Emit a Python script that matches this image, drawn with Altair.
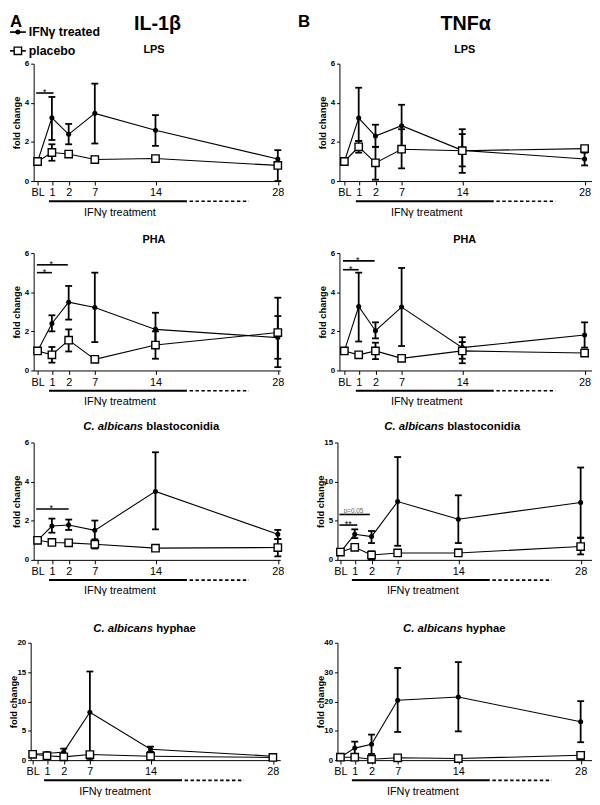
import altair as alt
import pandas as pd

FONT = "Liberation Sans"

DAY_LABELS = ["BL", "1", "2", "7", "14", "28"]
DAY_VALUES = [0, 1, 2, 7, 14, 28]

# ---------------- IL-1beta ----------------
IL1B_LPS_IFN = [1.0, 3.23, 2.39, 3.46, 2.60, 1.13]
IL1B_LPS_IFN_LO = [1.0, 2.10, 1.88, 1.92, 1.80, 0.70]
IL1B_LPS_IFN_HI = [1.0, 4.30, 2.92, 4.98, 3.37, 1.58]
IL1B_LPS_PLA = [1.0, 1.46, 1.38, 1.10, 1.15, 0.80]
IL1B_LPS_PLA_LO = [1.0, 1.04, 1.30, 0.95, 1.05, 0.00]
IL1B_LPS_PLA_HI = [1.0, 1.88, 1.45, 1.25, 1.25, 0.95]

IL1B_PHA_IFN = [1.0, 2.40, 3.49, 3.22, 2.10, 1.68]
IL1B_PHA_IFN_LO = [1.0, 2.00, 2.60, 1.45, 1.27, 0.60]
IL1B_PHA_IFN_HI = [1.0, 2.82, 4.32, 5.00, 2.95, 2.78]
IL1B_PHA_PLA = [1.0, 0.80, 1.55, 0.57, 1.30, 1.94]
IL1B_PHA_PLA_LO = [1.0, 0.40, 0.97, 0.50, 0.60, 0.17]
IL1B_PHA_PLA_HI = [1.0, 1.20, 2.10, 0.65, 2.00, 3.72]

IL1B_BLA_IFN = [1.0, 1.73, 1.78, 1.51, 3.50, 1.31]
IL1B_BLA_IFN_LO = [1.0, 1.39, 1.53, 0.97, 1.56, 1.06]
IL1B_BLA_IFN_HI = [1.0, 2.11, 2.06, 2.01, 5.50, 1.53]
IL1B_BLA_PLA = [1.0, 0.89, 0.87, 0.80, 0.60, 0.63]
IL1B_BLA_PLA_LO = [1.0, 0.85, 0.80, 0.58, 0.55, 0.18]
IL1B_BLA_PLA_HI = [1.0, 0.93, 0.95, 1.05, 0.65, 1.06]

IL1B_HYP_IFN = [1.0, 1.12, 1.40, 8.15, 1.85, 0.67]
IL1B_HYP_IFN_LO = [1.0, 1.00, 0.84, 0.00, 1.40, 0.55]
IL1B_HYP_IFN_HI = [1.0, 1.25, 1.96, 15.10, 2.30, 0.80]
IL1B_HYP_PLA = [1.0, 0.75, 0.56, 0.95, 0.67, 0.45]
IL1B_HYP_PLA_LO = [1.0, 0.70, 0.50, 0.85, 0.60, 0.40]
IL1B_HYP_PLA_HI = [1.0, 0.80, 0.62, 1.05, 0.75, 0.50]

# ---------------- TNF-alpha ----------------
TNF_LPS_IFN = [1.0, 3.22, 2.30, 2.83, 1.57, 1.13]
TNF_LPS_IFN_LO = [1.0, 2.05, 1.75, 1.75, 0.75, 0.80]
TNF_LPS_IFN_HI = [1.0, 4.77, 2.88, 3.90, 2.65, 1.45]
TNF_LPS_PLA = [1.0, 1.75, 0.93, 1.63, 1.55, 1.66]
TNF_LPS_PLA_LO = [1.0, 1.45, 0.07, 0.65, 0.42, 1.55]
TNF_LPS_PLA_HI = [1.0, 2.05, 1.75, 2.65, 2.40, 1.75]

TNF_PHA_IFN = [1.0, 3.27, 2.03, 3.24, 1.17, 1.81]
TNF_PHA_IFN_LO = [1.0, 1.48, 1.64, 1.25, 0.60, 1.17]
TNF_PHA_IFN_HI = [1.0, 5.00, 2.46, 5.24, 1.70, 2.46]
TNF_PHA_PLA = [1.0, 0.80, 1.00, 0.62, 1.00, 0.89]
TNF_PHA_PLA_LO = [1.0, 0.72, 0.58, 0.55, 0.37, 0.82]
TNF_PHA_PLA_HI = [1.0, 0.88, 1.42, 0.68, 1.45, 0.96]

TNF_BLA_IFN = [1.0, 3.27, 2.98, 7.45, 5.20, 7.33]
TNF_BLA_IFN_LO = [1.0, 2.78, 2.15, 1.80, 2.15, 2.80]
TNF_BLA_IFN_HI = [1.0, 3.90, 3.69, 13.14, 8.25, 11.80]
TNF_BLA_PLA = [1.0, 1.60, 0.62, 0.88, 0.88, 1.70]
TNF_BLA_PLA_LO = [1.0, 1.50, 0.00, 0.75, 0.50, 0.70]
TNF_BLA_PLA_HI = [1.0, 1.70, 1.10, 1.00, 1.33, 2.85]

TNF_HYP_IFN = [1.0, 4.10, 5.40, 20.40, 21.50, 13.10]
TNF_HYP_IFN_LO = [1.0, 1.90, 2.10, 9.60, 9.80, 6.10]
TNF_HYP_IFN_HI = [1.0, 6.30, 8.70, 31.40, 33.40, 20.10]
TNF_HYP_PLA = [1.0, 1.00, 0.30, 0.80, 0.55, 1.66]
TNF_HYP_PLA_LO = [1.0, 0.70, 0.10, 0.60, 0.30, 0.30]
TNF_HYP_PLA_HI = [1.0, 1.30, 0.50, 1.00, 0.80, 2.20]

# significance bars: (from day, to day, y, label)
SIG_IL1B_LPS = [(-0.1, 1.1, 4.5, "*")]
SIG_IL1B_PHA = [(-0.05, 1.95, 5.4, "*"), (-0.05, 1.0, 5.0, "*")]
SIG_IL1B_BLA = [(-0.1, 2.0, 2.6, "*")]
SIG_TNF_PHA = [(-0.1, 1.95, 5.6, "*"), (-0.1, 1.0, 5.15, "*")]
SIG_TNF_BLA = [(-0.07, 1.9, 5.8, "p=0.05"), (-0.07, 1.15, 4.45, "**")]

# IFN-gamma treatment period (days)
TREAT_SOLID = [0.8, 17.6]
TREAT_DASHED = [17.9, 24.7]
TREAT_LABEL_DAY = 9.9

# layout of the category positions along x (pixels from the reference)
BASE_POS = [4, 18.5, 35.5, 62, 123.5, 247.5]

PANELS = [
    dict(ifn=(IL1B_LPS_IFN, IL1B_LPS_IFN_LO, IL1B_LPS_IFN_HI), pla=(IL1B_LPS_PLA, IL1B_LPS_PLA_LO, IL1B_LPS_PLA_HI),
         ymax=6, yticks=[0, 2, 4, 6], col=0, row=0, shifted=False, title=("LPS",), sig=SIG_IL1B_LPS),
    dict(ifn=(TNF_LPS_IFN, TNF_LPS_IFN_LO, TNF_LPS_IFN_HI), pla=(TNF_LPS_PLA, TNF_LPS_PLA_LO, TNF_LPS_PLA_HI),
         ymax=6, yticks=[0, 2, 4, 6], col=1, row=0, shifted=False, title=("LPS",), sig=[]),
    dict(ifn=(IL1B_PHA_IFN, IL1B_PHA_IFN_LO, IL1B_PHA_IFN_HI), pla=(IL1B_PHA_PLA, IL1B_PHA_PLA_LO, IL1B_PHA_PLA_HI),
         ymax=6, yticks=[0, 2, 4, 6], col=0, row=1, shifted=False, title=("PHA",), sig=SIG_IL1B_PHA),
    dict(ifn=(TNF_PHA_IFN, TNF_PHA_IFN_LO, TNF_PHA_IFN_HI), pla=(TNF_PHA_PLA, TNF_PHA_PLA_LO, TNF_PHA_PLA_HI),
         ymax=6, yticks=[0, 2, 4, 6], col=1, row=1, shifted=False, title=("PHA",), sig=SIG_TNF_PHA),
    dict(ifn=(IL1B_BLA_IFN, IL1B_BLA_IFN_LO, IL1B_BLA_IFN_HI), pla=(IL1B_BLA_PLA, IL1B_BLA_PLA_LO, IL1B_BLA_PLA_HI),
         ymax=6, yticks=[0, 2, 4, 6], col=0, row=2, shifted=False,
         title=("C. albicans", "blastoconidia", 117), sig=SIG_IL1B_BLA),
    dict(ifn=(TNF_BLA_IFN, TNF_BLA_IFN_LO, TNF_BLA_IFN_HI), pla=(TNF_BLA_PLA, TNF_BLA_PLA_LO, TNF_BLA_PLA_HI),
         ymax=15, yticks=[0, 5, 10, 15], col=1, row=2, shifted=True,
         title=("C. albicans", "blastoconidia", 108), sig=SIG_TNF_BLA),
    dict(ifn=(IL1B_HYP_IFN, IL1B_HYP_IFN_LO, IL1B_HYP_IFN_HI), pla=(IL1B_HYP_PLA, IL1B_HYP_PLA_LO, IL1B_HYP_PLA_HI),
         ymax=20, yticks=[0, 5, 10, 15, 20], col=0, row=3, shifted=True,
         title=("C. albicans", "hyphae", 127), sig=[]),
    dict(ifn=(TNF_HYP_IFN, TNF_HYP_IFN_LO, TNF_HYP_IFN_HI), pla=(TNF_HYP_PLA, TNF_HYP_PLA_LO, TNF_HYP_PLA_HI),
         ymax=40, yticks=[0, 10, 20, 30, 40], col=1, row=3, shifted=True,
         title=("C. albicans", "hyphae", 127), sig=[]),
]

ONE = pd.DataFrame({"t": [""]})


def text_layer(txt, x, y, size, weight="bold", style="normal", align="left", baseline="alphabetic", color="black"):
    return alt.Chart(pd.DataFrame({"t": [txt]})).mark_text(
        font=FONT, fontSize=size, fontWeight=weight, fontStyle=style, align=align,
        baseline=baseline, color=color
    ).encode(text="t:N", x=alt.value(x), y=alt.value(y))


def make_panel(p):
    col, row = p["col"], p["row"]
    width = 256 if col == 0 else 258
    if col == 0:
        axis_start, shift = (3, 1) if p["shifted"] else (6, 6)
    else:
        axis_start, shift = (0, -1) if p["shifted"] else (2, 3)
    pos = [b + shift for b in BASE_POS]
    d_lo = -(pos[0] - axis_start) / (pos[1] - pos[0])
    d_hi = 28 + (width - pos[-1]) / ((pos[-1] - pos[-2]) / 14)
    xs = alt.Scale(domain=[d_lo] + DAY_VALUES + [d_hi], range=[axis_start] + pos + [width],
                   nice=False, zero=False)
    top = 11 if row == 3 else 0
    H = 119 + top
    ys = alt.Scale(domain=[0, p["ymax"]], range=[H, top], nice=False, zero=True)

    xaxis = alt.Axis(values=DAY_VALUES, labelExpr="datum.value == 0 ? 'BL' : datum.label",
                     title=None, grid=False, tickSize=4, tickWidth=1, domainWidth=1,
                     labelFontSize=11, labelPadding=2, labelFlush=False, labelOverlap=False,
                     labelFontWeight="normal")
    yaxis = alt.Axis(values=p["yticks"], title="fold change", grid=False, offset=-axis_start,
                     tickSize=3, tickWidth=1, domainWidth=1, labelFontSize=8, labelFontWeight="bold",
                     labelPadding=2, labelFlush=False, labelOverlap=False,
                     titleFontSize=9.5, titleFontWeight="bold", titleX=-14.5, titleY=top + 59.5,
                     titleAngle=270, titleBaseline="alphabetic", titleAlign="center")

    def X(f):
        return alt.X(f + ":Q", scale=xs, axis=xaxis)

    def Y(f):
        return alt.Y(f + ":Q", scale=ys, axis=yaxis)

    rows = []
    for g, (m, lo, hi) in (("IFN", p["ifn"]), ("placebo", p["pla"])):
        for d, mv, l, h in zip(DAY_VALUES, m, lo, hi):
            rows.append(dict(day=d, group=g, mean=mv, lo=l, hi=h))
    df = pd.DataFrame(rows)
    caps = []
    for r in rows:
        if r["lo"] != r["hi"]:
            caps.append(dict(day=r["day"], v=r["lo"]))
            caps.append(dict(day=r["day"], v=r["hi"]))
    caps = pd.DataFrame(caps)

    layers = []
    layers.append(alt.Chart(df).mark_line(color="black", strokeWidth=1.1).encode(
        x=X("day"), y=Y("mean"), detail="group:N"))
    layers.append(alt.Chart(df).mark_rule(color="black", strokeWidth=1.8).encode(
        x=X("day"), y=Y("lo"), y2="hi:Q"))
    layers.append(alt.Chart(caps).mark_tick(color="black", orient="horizontal", size=7,
                                            thickness=1.8, opacity=1).encode(x=X("day"), y=Y("v")))
    layers.append(alt.Chart(df[df.group == "IFN"]).mark_circle(color="black", size=26, opacity=1).encode(
        x=X("day"), y=Y("mean")))
    layers.append(alt.Chart(df[df.group == "placebo"]).mark_square(
        fill="white", stroke="black", strokeWidth=1.4, size=56, opacity=1).encode(
        x=X("day"), y=Y("mean")))

    # significance annotations
    if p["sig"]:
        sdf = pd.DataFrame([dict(x1=a, x2=b, y=v, lab=t, xm=(a + b) / 2) for a, b, v, t in p["sig"]])
        layers.append(alt.Chart(sdf).mark_rule(color="black", strokeWidth=1.6).encode(
            x=X("x1"), x2="x2:Q", y=Y("y")))
        stars = sdf[sdf.lab != "p=0.05"]
        if len(stars):
            layers.append(alt.Chart(stars).mark_text(font=FONT, fontSize=9, color="black",
                                                     baseline="alphabetic", dy=2).encode(
                x=X("xm"), y=Y("y"), text="lab:N"))
        pv = sdf[sdf.lab == "p=0.05"]
        if len(pv):
            layers.append(alt.Chart(pv).mark_text(font=FONT, fontSize=6.5, color="#666666",
                                                  baseline="alphabetic", dy=-2).encode(
                x=X("xm"), y=Y("y"), text="lab:N"))

    # treatment bar
    tdf = pd.DataFrame({"a": [TREAT_SOLID[0]], "b": [TREAT_SOLID[1]]})
    ddf = pd.DataFrame({"a": [TREAT_DASHED[0]], "b": [TREAT_DASHED[1]]})
    layers.append(alt.Chart(tdf).mark_rule(color="black", strokeWidth=2).encode(
        x=X("a"), x2="b:Q", y=alt.value(H + 20.5)))
    layers.append(alt.Chart(ddf).mark_rule(color="black", strokeWidth=1.6, strokeDash=[3.5, 2.5]).encode(
        x=X("a"), x2="b:Q", y=alt.value(H + 20.5)))
    ldf = pd.DataFrame({"d": [TREAT_LABEL_DAY], "t": ["IFNγ treatment"]})
    layers.append(alt.Chart(ldf).mark_text(font=FONT, fontSize=11, color="black",
                                           baseline="alphabetic").encode(
        x=X("d"), y=alt.value(H + 35), text="t:N"))

    # panel title
    t = p["title"]
    if row in (0, 1):
        ty = top - 10.5
    elif row == 2:
        ty = top - 13
    else:
        ty = top - 10.5
    if len(t) == 1:
        layers.append(text_layer(t[0], 128 if col == 0 else 129, ty, 11, align="center"))
    else:
        split = t[2]
        layers.append(text_layer(t[0], split, ty, 11.5, style="italic", align="right"))
        layers.append(text_layer(t[1], split + 3.2, ty, 11.5, align="left"))

    # headers & legend
    if row == 0 and col == 0:
        layers.append(text_layer("A", -18, -50, 17, baseline="top"))
        layers.append(text_layer("IL-1β", 131.5, -50, 20, baseline="top", align="center"))
        leg = pd.DataFrame({"g": ["IFN", "placebo"], "y": [-32, -13]})
        layers.append(alt.Chart(leg).mark_rule(color="black", strokeWidth=1.2).encode(
            x=alt.value(-18), x2=alt.value(-2), y=alt.value(-32)))
        layers.append(alt.Chart(leg).mark_rule(color="black", strokeWidth=1.2).encode(
            x=alt.value(-18), x2=alt.value(-2), y=alt.value(-13)))
        layers.append(alt.Chart(ONE).mark_circle(color="black", size=26, opacity=1).encode(
            x=alt.value(-10), y=alt.value(-32)))
        layers.append(alt.Chart(ONE).mark_square(fill="white", stroke="black", strokeWidth=1.4,
                                                 size=56, opacity=1).encode(
            x=alt.value(-10), y=alt.value(-13)))
        layers.append(text_layer("IFNγ treated", 1, -32, 12.5, baseline="middle"))
        layers.append(text_layer("placebo", 1, -13, 12.5, baseline="middle"))
    if row == 0 and col == 1:
        layers.append(text_layer("B", -40, -50, 17, baseline="top"))
        layers.append(text_layer("TNFα", 130, -50, 20, baseline="top", align="center"))

    return alt.layer(*layers).properties(width=width, height=H)


charts = [make_panel(p) for p in PANELS]

chart = alt.concat(
    *charts, columns=2, spacing={"row": 73, "column": 58}, bounds="flush", align="each", padding=0
).configure_view(stroke=None).configure_axis(
    domainColor="black", tickColor="black", labelColor="black", titleColor="black",
    labelFont=FONT, titleFont=FONT
)

chart.save("out.html", embed_options={"renderer": "svg", "actions": False})
